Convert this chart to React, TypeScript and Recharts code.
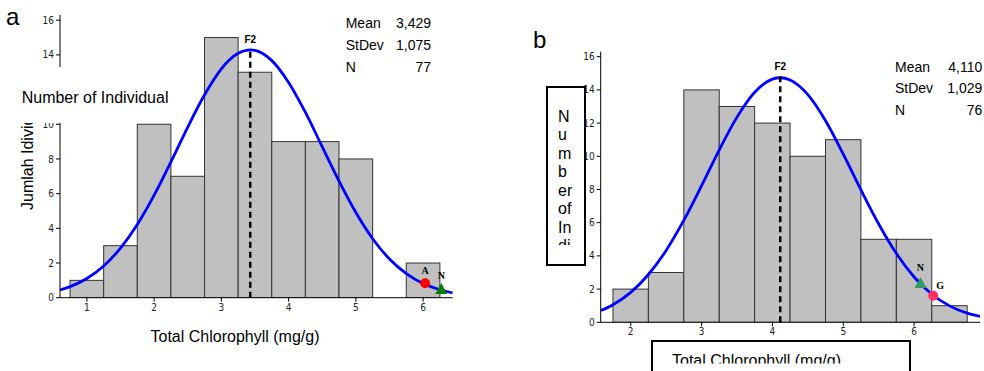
import React from "react";
import { ComposedChart, Bar, Line, Scatter, XAxis, YAxis, ReferenceLine } from "recharts";

// shared
const yTicks = [0, 2, 4, 6, 8, 10, 12, 14, 16];
const statLabels = ["Mean", "StDev", "N"];
const BIN = 0.5;

// panel a
const binsA = [1, 1.5, 2, 2.5, 3, 3.5, 4, 4.5, 5, 5.5, 6];
const countsA = [1, 3, 10, 7, 15, 13, 9, 9, 8, 0, 2];
const xTicksA = [1, 2, 3, 4, 5, 6];
const hiddenTicksA = [12]; // covered by the pasted label box in the original
const fitXA = [0.6, 0.75, 1, 1.25, 1.5, 1.75, 2, 2.25, 2.5, 2.75, 3, 3.25, 3.43, 3.5, 3.75, 4, 4.25, 4.5, 4.75, 5, 5.25, 5.5, 5.75, 6, 6.25, 6.44];
const fitYA = [0.45, 0.64, 1.11, 1.83, 2.86, 4.22, 5.91, 7.83, 9.84, 11.7, 13.2, 14.09, 14.29, 14.26, 13.67, 12.41, 10.68, 8.7, 6.72, 4.91, 3.4, 2.23, 1.39, 0.82, 0.46, 0.28];
const markNamesA = ["A", "N"];
const markXA = [6.03, 6.27];
const markYA = [0.83, 0.5];
const statsA = ["3,429", "1,075", "77"];
const meanA = 3.429;

// panel b
const binsB = [2, 2.5, 3, 3.5, 4, 4.5, 5, 5.5, 6, 6.5];
const countsB = [2, 3, 14, 13, 12, 10, 11, 5, 5, 1];
const xTicksB = [2, 3, 4, 5, 6];
const fitXB = [1.58, 1.75, 2, 2.25, 2.5, 2.75, 3, 3.25, 3.5, 3.75, 4, 4.11, 4.25, 4.5, 4.75, 5, 5.25, 5.5, 5.75, 6, 6.25, 6.5, 6.75, 6.93];
const fitYB = [0.71, 1.06, 1.8, 2.88, 4.33, 6.15, 8.23, 10.39, 12.36, 13.86, 14.65, 14.73, 14.59, 13.71, 12.14, 10.13, 7.97, 5.92, 4.14, 2.73, 1.69, 0.99, 0.55, 0.36];
const markNamesB = ["N", "G"];
const markXB = [6.09, 6.27];
const markYB = [2.37, 1.6];
const statsB = ["4,110", "1,029", "76"];
const meanB = 4.11;

const markerStyle: Record<string, { kind: string; color: string; dx: number; dy: number }> = {
  aA: { kind: "circle", color: "#ff0000", dx: 0, dy: -9 },
  aN: { kind: "tri", color: "#008000", dx: 0, dy: -10 },
  bN: { kind: "tri", color: "#339966", dx: 0, dy: -12 },
  bG: { kind: "circle", color: "#ff3366", dx: 7, dy: -7 },
};

const YW = 60;
const XH = 20;
const tickFamily = "'DejaVu Sans Condensed', 'Liberation Sans', Arial, sans-serif";
const tickFont = { fontSize: 10, fill: "#222", fontFamily: tickFamily };
const sans = "'Liberation Sans', Arial, sans-serif";

function zip(xs: number[], ys: number[], key: string) {
  return xs.map((x, i) => ({ x, [key]: ys[i] }));
}

function Panel(props: any) {
  const { id, left, width, height, margin, xDomain, xTicks, bins, counts, fitX, fitY, names, mx, my, mean, meanTop, hidden = [] } = props;
  const plotW = width - margin.left - margin.right - YW;
  const barW = (BIN * plotW) / (xDomain[1] - xDomain[0]);
  const data = zip(bins, counts, "count");
  const fit = zip(fitX, fitY, "y");
  const marks = names.map((n: string, i: number) => ({ name: n, x: mx[i], y: my[i] }));

  const barShape = (p: any) => {
    if (!p.payload || p.payload.count <= 0) return <g />;
    const cx = p.x + p.width / 2;
    return <rect x={cx - barW / 2} y={p.y} width={barW} height={p.height} fill="#c0c0c0" stroke="#333" strokeWidth={1} />;
  };

  const yTick = (p: any) => {
    if (hidden.includes(p.payload.value)) return <g />;
    return (
      <text x={p.x} y={p.y} dy="0.355em" textAnchor="end" fontSize={10} fill="#222" fontFamily={tickFamily}>
        {p.payload.value}
      </text>
    );
  };

  const markShape = (p: any) => {
    const st = markerStyle[id + p.payload.name];
    const { cx, cy } = p;
    return (
      <g>
        {st.kind === "circle" ? (
          <circle cx={cx} cy={cy} r={5} fill={st.color} />
        ) : (
          <polygon points={`${cx - 6},${cy + 5} ${cx + 6},${cy + 5} ${cx},${cy - 6}`} fill={st.color} />
        )}
        <text x={cx + st.dx} y={cy + st.dy} textAnchor="middle" fontFamily="'Liberation Serif', 'Times New Roman', serif" fontWeight="bold" fontSize={10} fill="#000">
          {p.payload.name}
        </text>
      </g>
    );
  };

  return (
    <div style={{ position: "absolute", left, top: 0 }}>
      <ComposedChart width={width} height={height} data={data} margin={margin}>
        <XAxis
          type="number"
          dataKey="x"
          domain={xDomain}
          ticks={xTicks}
          allowDataOverflow
          height={XH}
          tickSize={4}
          tickMargin={2}
          axisLine={{ stroke: "#000" }}
          tickLine={{ stroke: "#000" }}
          tick={tickFont}
        />
        <YAxis
          type="number"
          domain={[0, 16.3]}
          ticks={yTicks}
          allowDataOverflow
          width={YW}
          tickSize={4}
          tickMargin={2}
          axisLine={{ stroke: "#000" }}
          tickLine={{ stroke: "#000" }}
          tick={yTick}
        />
        <Bar dataKey="count" shape={barShape} isAnimationActive={false} />
        <Line data={fit} dataKey="y" type="monotone" stroke="#0000ff" strokeWidth={2.8} dot={false} isAnimationActive={false} />
        <ReferenceLine
          segment={[{ x: mean, y: 0 }, { x: mean, y: meanTop }]}
          stroke="#000"
          strokeWidth={2.5}
          strokeDasharray="6 4"
          label={{ value: "F2", position: "top", fontSize: 10, fontWeight: "bold", fill: "#000", fontFamily: sans }}
        />
        <Scatter data={marks} dataKey="y" shape={markShape} isAnimationActive={false} />
      </ComposedChart>
    </div>
  );
}

function Stats({ x, xr, y0, values }: { x: number; xr: number; y0: number; values: string[] }) {
  return (
    <g fontFamily={sans} fontSize={14} fill="#000">
      {statLabels.map((s, i) => (
        <React.Fragment key={s}>
          <text x={x} y={y0 + i * 21.7}>{s}</text>
          <text x={xr} y={y0 + i * 21.7} textAnchor="end">{values[i]}</text>
        </React.Fragment>
      ))}
    </g>
  );
}

const verticalLines = ["N", "u", "m", "b", "er", "of", "In", "di"];

export default function App() {
  return (
    <div style={{ position: "absolute", left: 0, top: 0, width: 984, height: 371, background: "#fff", overflow: "hidden" }}>
      <Panel
        id="a"
        left={0}
        width={470}
        height={371}
        margin={{ top: 15, right: 17.3, bottom: 53.3, left: 0 }}
        xDomain={[0.6, 6.44]}
        xTicks={xTicksA}
        bins={binsA}
        counts={countsA}
        fitX={fitXA}
        fitY={fitYA}
        names={markNamesA}
        mx={markXA}
        my={markYA}
        mean={meanA}
        meanTop={14.4}
        hidden={hiddenTicksA}
      />
      <Panel
        id="b"
        left={520}
        width={464}
        height={371}
        margin={{ top: 51.7, right: 4, bottom: 28.7, left: 20.7 }}
        xDomain={[1.576, 6.93]}
        xTicks={xTicksB}
        bins={binsB}
        counts={countsB}
        fitX={fitXB}
        fitY={fitYB}
        names={markNamesB}
        mx={markXB}
        my={markYB}
        mean={meanB}
        meanTop={14.9}
      />
      <svg width={984} height={371} style={{ position: "absolute", left: 0, top: 0, pointerEvents: "none" }}>
        <defs>
          <clipPath id="clipV">
            <rect x={548} y={88} width={36} height={157} />
          </clipPath>
          <clipPath id="clipX">
            <rect x={653} y={342} width={256} height={21.5} />
          </clipPath>
        </defs>
        <text x={6} y={25} fontFamily={sans} fontSize={24} fill="#000">a</text>
        <text x={533} y={48} fontFamily={sans} fontSize={24} fill="#000">b</text>
        <Stats x={345.7} xr={431} y0={28.3} values={statsA} />
        <Stats x={895} xr={982.3} y0={71.7} values={statsB} />

        <text x={32.5} y={210} transform="rotate(-90 32.5 210)" fontFamily={sans} fontSize={16} fill="#000">Jumlah Idividu</text>
        <rect x={0} y={67} width={175} height={56} fill="#fff" />
        <text x={21.7} y={103.3} fontFamily={sans} fontSize={16} fill="#000">Number of Individual</text>
        <text x={235} y={341.5} textAnchor="middle" fontFamily={sans} fontSize={16} fill="#000">Total Chlorophyll (mg/g)</text>

        <rect x={547} y={87} width={38} height={178} fill="#fff" stroke="#000" strokeWidth={2} />
        <g clipPath="url(#clipV)" fontFamily={sans} fontSize={16} fill="#000">
          {verticalLines.map((t, i) => (
            <text key={i} x={558} y={121.7 + i * 18.5}>{t}</text>
          ))}
        </g>
        <rect x={652} y={341} width={258} height={40} fill="#fff" stroke="#000" strokeWidth={2} />
        <g clipPath="url(#clipX)">
          <text x={672} y={366} fontFamily={sans} fontSize={16} fill="#000">Total Chlorophyll (mg/g)</text>
        </g>
      </svg>
    </div>
  );
}
